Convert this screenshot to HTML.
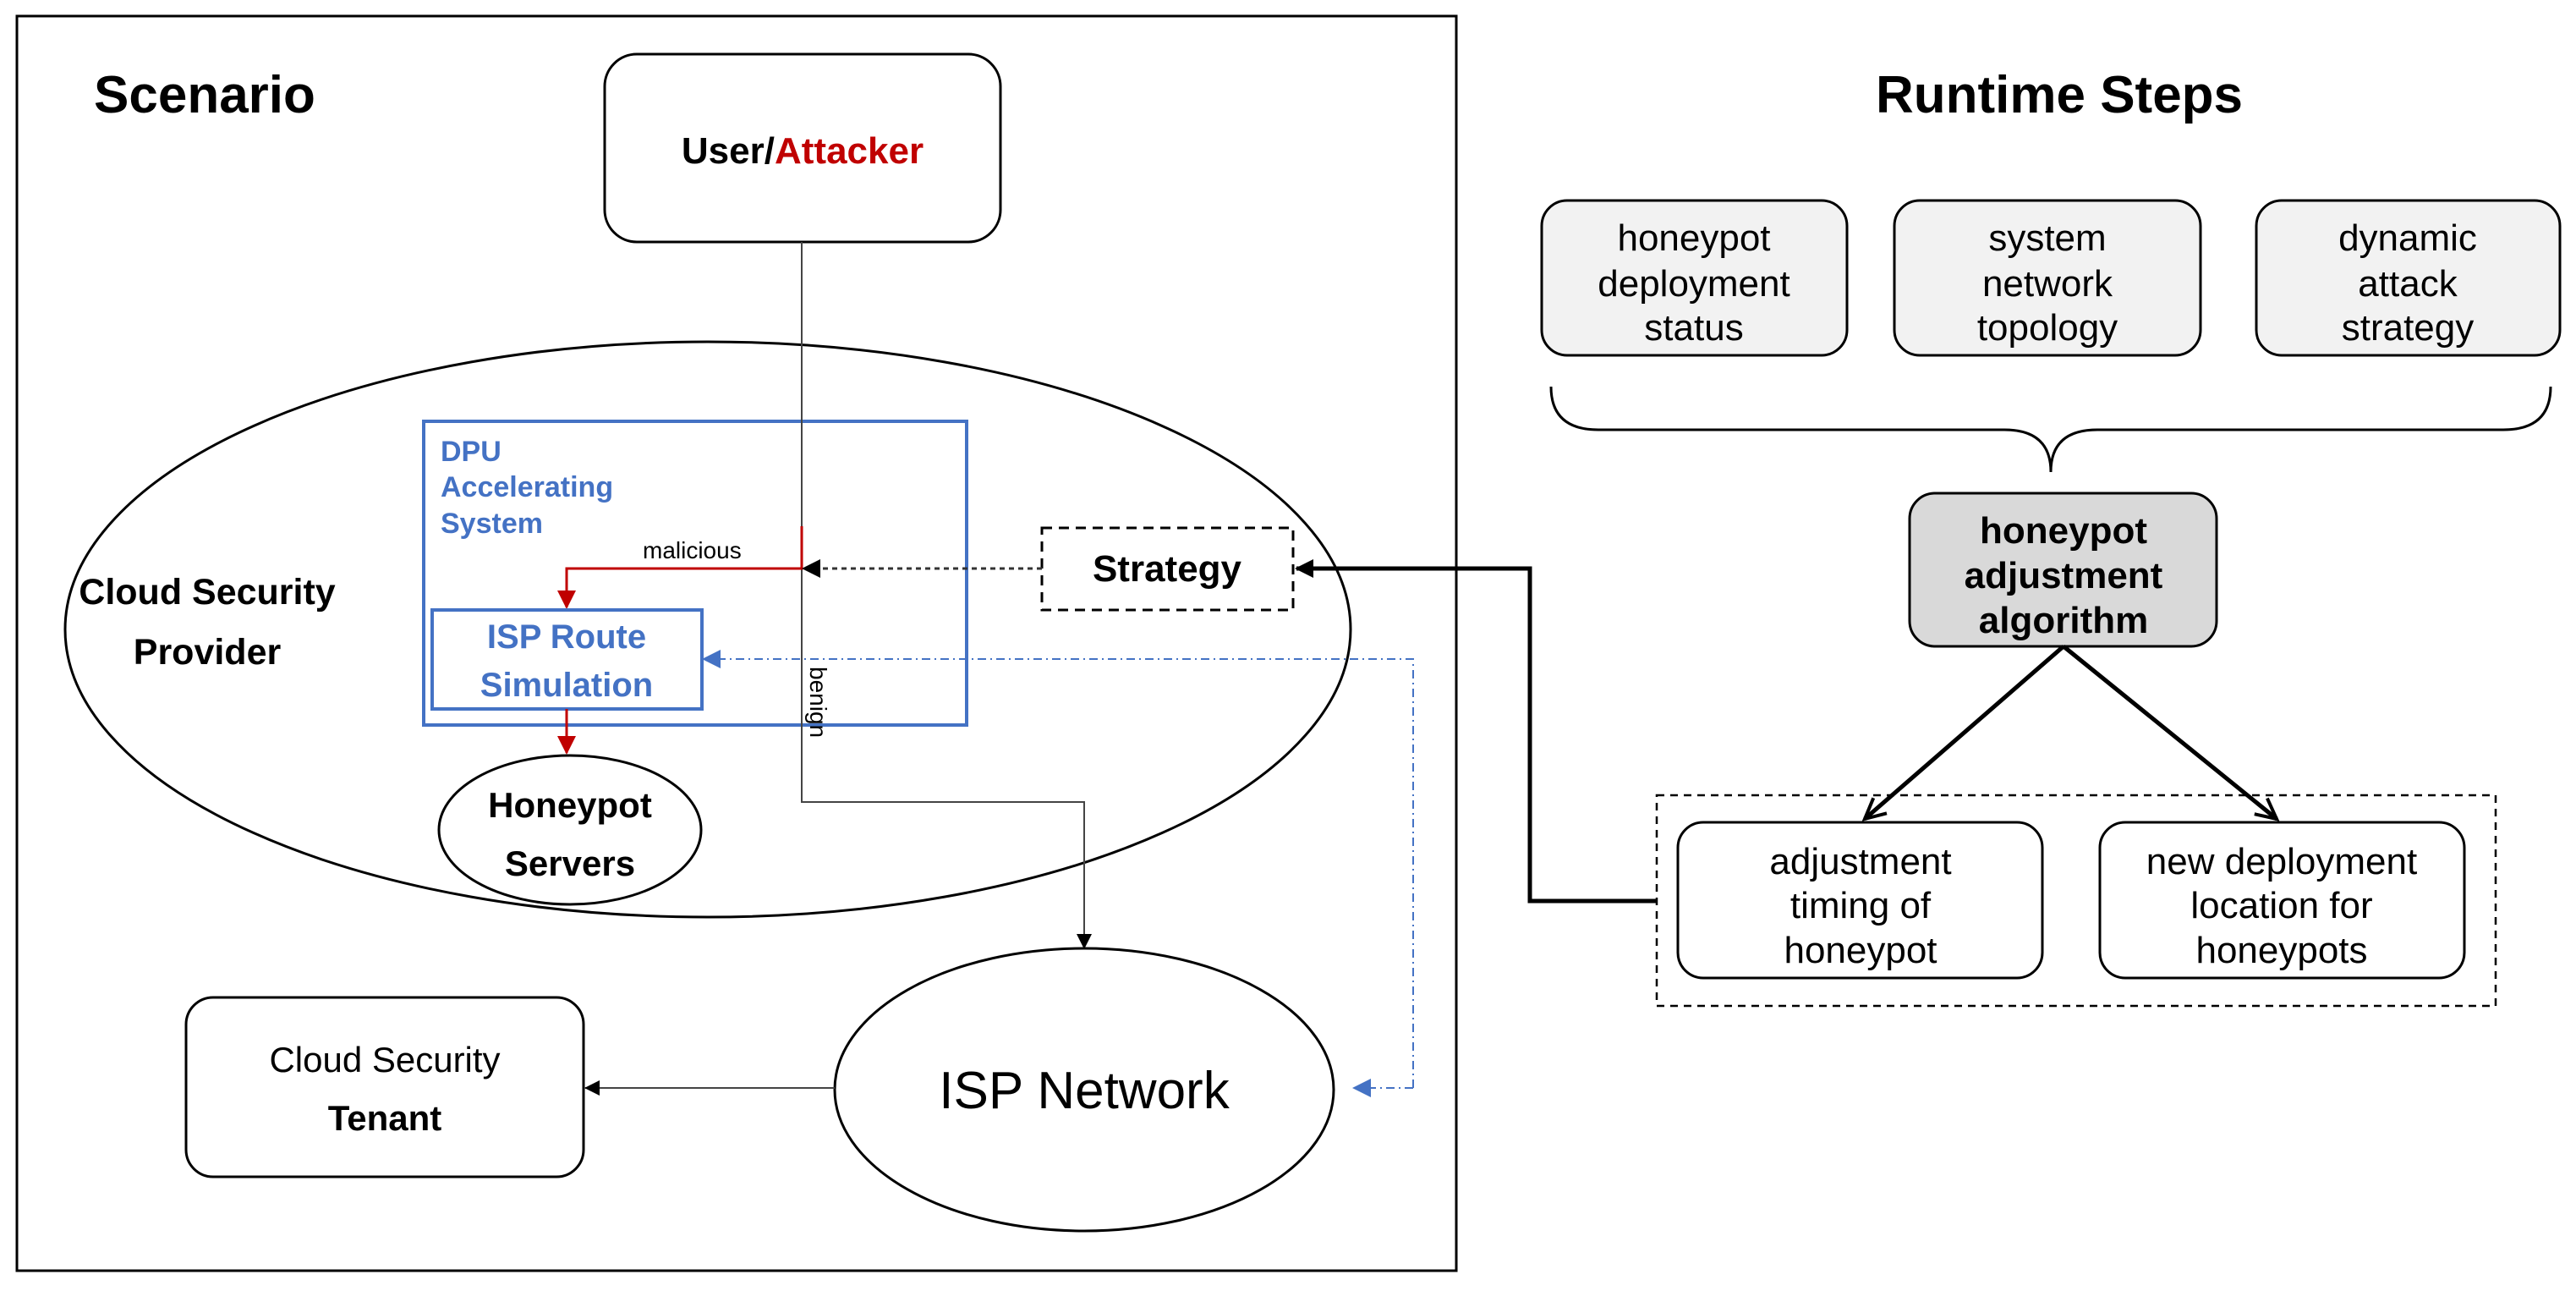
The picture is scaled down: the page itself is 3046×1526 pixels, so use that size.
<!DOCTYPE html>
<html><head><meta charset="utf-8"><style>
html,body{margin:0;padding:0;background:#fff;}
svg{display:block;}
text{font-family:"Liberation Sans",sans-serif;}
</style></head><body>
<svg width="3046" height="1526" viewBox="0 0 3046 1526" xmlns="http://www.w3.org/2000/svg">
<defs>
<marker id="am" markerWidth="18" markerHeight="18" refX="17" refY="9" orient="auto" markerUnits="userSpaceOnUse"><path d="M0,0 L18,9 L0,18z" fill="#000"/></marker>
<marker id="abig" markerWidth="22" markerHeight="22" refX="20" refY="11" orient="auto" markerUnits="userSpaceOnUse"><path d="M0,0 L22,11 L0,22z" fill="#000"/></marker>
<marker id="ar" markerWidth="22" markerHeight="22" refX="20" refY="11" orient="auto" markerUnits="userSpaceOnUse"><path d="M0,0 L22,11 L0,22z" fill="#c00000"/></marker>
<marker id="abl" markerWidth="22" markerHeight="22" refX="20" refY="11" orient="auto" markerUnits="userSpaceOnUse"><path d="M0,0 L22,11 L0,22z" fill="#4472c4"/></marker>
<marker id="aopen" markerWidth="30" markerHeight="30" refX="26" refY="15" orient="auto" markerUnits="userSpaceOnUse"><path d="M2,3 L26,15 L2,27" fill="none" stroke="#000" stroke-width="4"/></marker>
</defs>

<rect x="20" y="19" width="1702" height="1483" fill="none" stroke="#000" stroke-width="3"/>
<text x="111" y="133" font-size="62" font-weight="600">Scenario</text>

<rect x="715" y="64" width="468" height="222" rx="38" fill="#fff" stroke="#000" stroke-width="3"/>
<text x="949" y="193" font-size="44" font-weight="bold" text-anchor="middle">User/<tspan fill="#c00000">Attacker</tspan></text>

<ellipse cx="837" cy="744" rx="760" ry="340" fill="none" stroke="#000" stroke-width="3"/>
<text x="245" y="714" font-size="43" font-weight="bold" text-anchor="middle">Cloud Security</text>
<text x="245" y="785" font-size="43" font-weight="bold" text-anchor="middle">Provider</text>

<rect x="501" y="498" width="642" height="359" fill="none" stroke="#4472c4" stroke-width="4"/>
<text x="521" y="545" font-size="34" font-weight="bold" fill="#4472c4">DPU</text>
<text x="521" y="587" font-size="34" font-weight="bold" fill="#4472c4">Accelerating</text>
<text x="521" y="630" font-size="34" font-weight="bold" fill="#4472c4">System</text>

<polyline points="948,286 948,948 1282,948 1282,1121" fill="none" stroke="#444" stroke-width="2" marker-end="url(#am)"/>
<text transform="translate(958,788) rotate(90)" font-size="28">benign</text>

<polyline points="948,622 948,672 670,672 670,718" fill="none" stroke="#c00000" stroke-width="3" marker-end="url(#ar)"/>
<text x="760" y="660" font-size="28">malicious</text>

<rect x="511" y="721" width="319" height="117" fill="#fff" stroke="#4472c4" stroke-width="4"/>
<text x="670" y="766" font-size="40" font-weight="bold" fill="#4472c4" text-anchor="middle">ISP Route</text>
<text x="670" y="823" font-size="40" font-weight="bold" fill="#4472c4" text-anchor="middle">Simulation</text>
<line x1="670" y1="838" x2="670" y2="890" stroke="#c00000" stroke-width="3" marker-end="url(#ar)"/>

<ellipse cx="674" cy="981" rx="155" ry="88" fill="#fff" stroke="#000" stroke-width="3"/>
<text x="674" y="966" font-size="42" font-weight="bold" text-anchor="middle">Honeypot</text>
<text x="674" y="1035" font-size="42" font-weight="bold" text-anchor="middle">Servers</text>

<rect x="1232" y="624" width="297" height="97" fill="#fff" stroke="#000" stroke-width="3" stroke-dasharray="12,8"/>
<text x="1380" y="687" font-size="44" font-weight="bold" text-anchor="middle">Strategy</text>
<line x1="1232" y1="672" x2="950" y2="672" stroke="#333" stroke-width="3" stroke-dasharray="6,5" marker-end="url(#abig)"/>

<polyline points="1671,1286 1671,779 832,779" fill="none" stroke="#4472c4" stroke-width="2" stroke-dasharray="10,5,2,5" marker-end="url(#abl)"/>
<line x1="1671" y1="1286" x2="1601" y2="1286" stroke="#4472c4" stroke-width="2" stroke-dasharray="10,5,2,5" marker-end="url(#abl)"/>

<ellipse cx="1282" cy="1288" rx="295" ry="167" fill="#fff" stroke="#000" stroke-width="3"/>
<text x="1282" y="1310" font-size="62" text-anchor="middle">ISP Network</text>
<line x1="987" y1="1286" x2="692" y2="1286" stroke="#444" stroke-width="2" marker-end="url(#am)"/>

<rect x="220" y="1179" width="470" height="212" rx="32" fill="#fff" stroke="#000" stroke-width="3"/>
<text x="455" y="1267" font-size="42" text-anchor="middle">Cloud Security</text>
<text x="455" y="1336" font-size="42" font-weight="bold" text-anchor="middle">Tenant</text>

<polyline points="1959,1065 1809,1065 1809,672 1533,672" fill="none" stroke="#000" stroke-width="5" marker-end="url(#abig)"/>

<text x="2435" y="133" font-size="62" font-weight="600" text-anchor="middle">Runtime Steps</text>

<rect x="1823" y="237" width="361" height="183" rx="30" fill="#f2f2f2" stroke="#000" stroke-width="3"/>
<text x="2003" y="296" font-size="44" text-anchor="middle">honeypot</text>
<text x="2003" y="350" font-size="44" text-anchor="middle">deployment</text>
<text x="2003" y="402" font-size="44" text-anchor="middle">status</text>

<rect x="2240" y="237" width="362" height="183" rx="30" fill="#f2f2f2" stroke="#000" stroke-width="3"/>
<text x="2421" y="296" font-size="44" text-anchor="middle">system</text>
<text x="2421" y="350" font-size="44" text-anchor="middle">network</text>
<text x="2421" y="402" font-size="44" text-anchor="middle">topology</text>

<rect x="2668" y="237" width="359" height="183" rx="30" fill="#f2f2f2" stroke="#000" stroke-width="3"/>
<text x="2847" y="296" font-size="44" text-anchor="middle">dynamic</text>
<text x="2847" y="350" font-size="44" text-anchor="middle">attack</text>
<text x="2847" y="402" font-size="44" text-anchor="middle">strategy</text>

<path d="M1834,457 Q1834,508 1890,508 L2370,508 Q2425,508 2425,558 Q2425,508 2480,508 L2960,508 Q3016,508 3016,457" fill="none" stroke="#000" stroke-width="3"/>

<rect x="2258" y="583" width="363" height="181" rx="30" fill="#d9d9d9" stroke="#000" stroke-width="3"/>
<text x="2440" y="642" font-size="44" font-weight="bold" text-anchor="middle">honeypot</text>
<text x="2440" y="695" font-size="44" font-weight="bold" text-anchor="middle">adjustment</text>
<text x="2440" y="748" font-size="44" font-weight="bold" text-anchor="middle">algorithm</text>

<line x1="2440" y1="764" x2="2205" y2="968" stroke="#000" stroke-width="5" marker-end="url(#aopen)"/>
<line x1="2440" y1="764" x2="2692" y2="968" stroke="#000" stroke-width="5" marker-end="url(#aopen)"/>

<rect x="1959" y="940" width="992" height="249" fill="none" stroke="#000" stroke-width="2.5" stroke-dasharray="9,7"/>
<rect x="1984" y="972" width="431" height="184" rx="30" fill="#fff" stroke="#000" stroke-width="3"/>
<text x="2200" y="1033" font-size="44" text-anchor="middle">adjustment</text>
<text x="2200" y="1085" font-size="44" text-anchor="middle">timing of</text>
<text x="2200" y="1138" font-size="44" text-anchor="middle">honeypot</text>
<rect x="2483" y="972" width="431" height="184" rx="30" fill="#fff" stroke="#000" stroke-width="3"/>
<text x="2698" y="1033" font-size="44" text-anchor="middle">new deployment</text>
<text x="2698" y="1085" font-size="44" text-anchor="middle">location for</text>
<text x="2698" y="1138" font-size="44" text-anchor="middle">honeypots</text>
</svg>
</body></html>
